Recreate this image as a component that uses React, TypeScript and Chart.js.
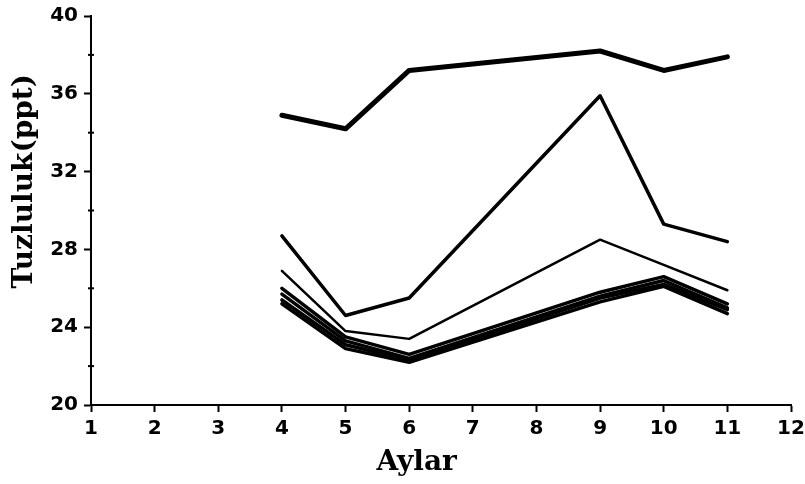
import React, { useEffect, useRef } from "react";
import { Chart, registerables } from "chart.js";

Chart.register(...registerables);

const months = [4, 5, 6, 9, 10, 11];

const seriesTop = [34.9, 34.2, 37.2, 38.2, 37.2, 37.9];
const seriesSecond = [28.7, 24.6, 25.5, 35.9, 29.3, 28.4];
const seriesThird = [26.9, 23.8, 23.4, 28.5, 27.2, 25.9];
const seriesB1 = [26.0, 23.5, 22.6, 25.8, 26.6, 25.2];
const seriesB2 = [25.7, 23.3, 22.4, 25.6, 26.4, 25.0];
const seriesB3 = [25.4, 23.1, 22.3, 25.5, 26.2, 24.9];
const seriesB4 = [25.2, 22.9, 22.2, 25.3, 26.1, 24.7];

const xTicks = [1, 2, 3, 4, 5, 6, 7, 8, 9, 10, 11, 12];
const yMajorTicks = [20, 24, 28, 32, 36, 40];
const yMinorTicks = [22, 26, 30, 34, 38];

const xTitle = "Aylar";
const yTitle = "Tuzluluk(ppt)";

const toPoints = (vals: number[]) => vals.map((v, i) => ({ x: months[i], y: v }));

const minorTickPlugin = {
  id: "minorTicks",
  afterDraw(chart: any) {
    const ys = chart.scales.y;
    const ctx = chart.ctx;
    const x0 = ys.right;
    ctx.save();
    ctx.strokeStyle = "black";
    ctx.lineWidth = 2;
    yMinorTicks.forEach((v) => {
      const py = ys.getPixelForValue(v);
      ctx.beginPath();
      ctx.moveTo(x0 - 3, py);
      ctx.lineTo(x0 + 3, py);
      ctx.stroke();
    });
    ctx.restore();
  },
};

export default function App() {
  const ref = useRef<HTMLCanvasElement | null>(null);

  useEffect(() => {
    document.body.style.margin = "0";
    const canvas = ref.current;
    if (!canvas) return;
    const mk = (data: number[], w: number) => ({
      data: toPoints(data),
      borderColor: "black",
      backgroundColor: "black",
      borderWidth: w,
      pointRadius: 0,
      tension: 0,
      borderCapStyle: "round" as const,
      borderJoinStyle: "round" as const,
      fill: false,
    });
    const chart = new Chart(canvas, {
      type: "line",
      data: {
        datasets: [
          mk(seriesTop, 5),
          mk(seriesSecond, 3.5),
          mk(seriesThird, 2.5),
          mk(seriesB1, 3.5),
          mk(seriesB2, 3.5),
          mk(seriesB3, 3.5),
          mk(seriesB4, 3.5),
        ],
      },
      options: {
        animation: false,
        responsive: false,
        layout: { padding: { top: 16, right: 14, left: 0, bottom: 0 } },
        plugins: { legend: { display: false }, tooltip: { enabled: false } },
        scales: {
          x: {
            type: "linear",
            min: 1,
            max: 12,
            afterFit: (s: any) => {
              s.height = 79;
              s.paddingLeft = 0;
              s.paddingRight = 0;
            },
            afterBuildTicks: (s: any) => {
              s.ticks = xTicks.map((v) => ({ value: v }));
            },
            ticks: {
              color: "black",
              padding: 5,
              font: { family: "DejaVu Sans", weight: "bold", size: 20 },
              maxRotation: 0,
              autoSkip: false,
            },
            grid: {
              drawOnChartArea: false,
              drawTicks: true,
              tickLength: 7,
              tickColor: "black",
              tickWidth: 2,
            },
            border: { display: true, color: "black", width: 2 },
            title: {
              display: true,
              text: xTitle + "     ",
              color: "black",
              font: { family: "DejaVu Serif", weight: "bold", size: 28 },
              padding: { top: 0, bottom: 4 },
            },
          },
          y: {
            type: "linear",
            min: 20,
            max: 40,
            afterFit: (s: any) => {
              s.width = 91;
              s.paddingTop = 0;
              s.paddingBottom = 0;
            },
            afterBuildTicks: (s: any) => {
              s.ticks = yMajorTicks.map((v) => ({ value: v }));
            },
            ticks: {
              color: "black",
              padding: 6,
              font: { family: "DejaVu Sans", weight: "bold", size: 20 },
            },
            grid: {
              drawOnChartArea: false,
              drawTicks: true,
              tickLength: 7,
              tickColor: "black",
              tickWidth: 2,
            },
            border: { display: true, color: "black", width: 2 },
            title: {
              display: true,
              text: "      " + yTitle,
              color: "black",
              font: { family: "DejaVu Serif", weight: "bold", size: 28 },
              padding: { top: 8, bottom: 0 },
            },
          },
        },
      },
      plugins: [minorTickPlugin],
    });
    return () => chart.destroy();
  }, []);

  return (
    <div style={{ width: 805, height: 484 }}>
      <canvas ref={ref} width={805} height={484} style={{ display: "block" }} />
    </div>
  );
}
